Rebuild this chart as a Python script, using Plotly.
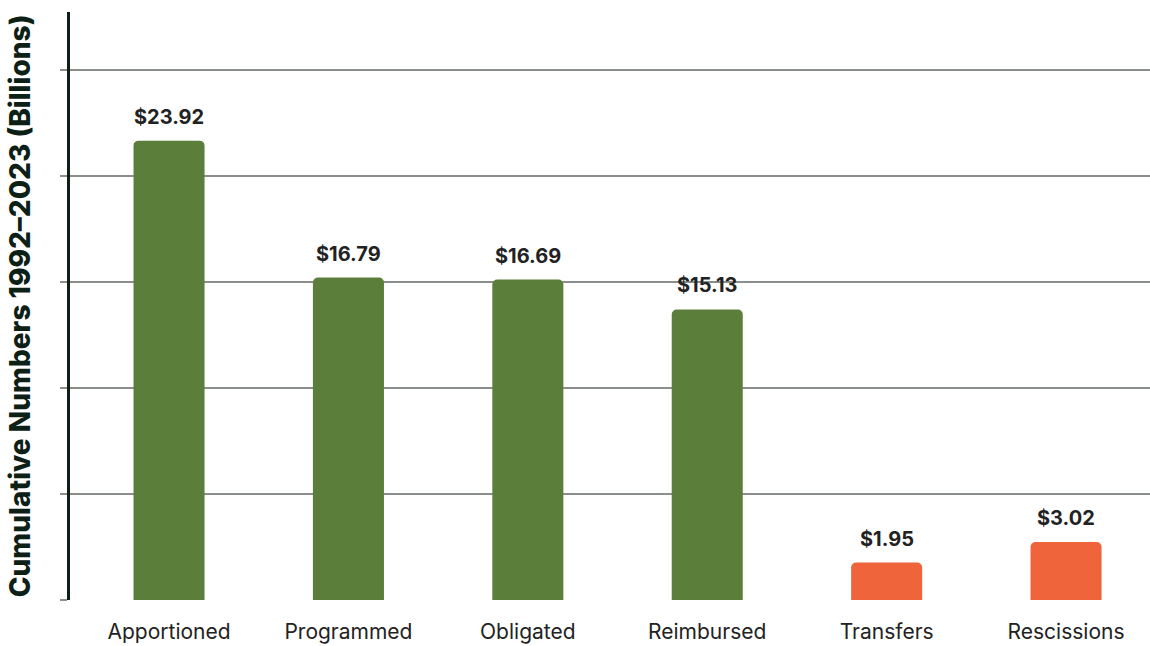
import plotly.graph_objects as go

categories = ["Apportioned", "Programmed", "Obligated", "Reimbursed", "Transfers", "Rescissions"]
values = [23.92, 16.79, 16.69, 15.13, 1.95, 3.02]
bar_colors = ["#5B7F3A", "#5B7F3A", "#5B7F3A", "#5B7F3A", "#F0643C", "#F0643C"]
labels = ["$23.92", "$16.79", "$16.69", "$15.13", "$1.95", "$3.02"]
grid_vals = [0, 5.52, 11.04, 16.56, 22.08, 27.6]

fig = go.Figure(go.Bar(
    x=categories, y=values,
    marker=dict(color=bar_colors, line=dict(width=0)),
    cliponaxis=False,
))

for c, v, t in zip(categories, values, labels):
    fig.add_annotation(x=c, y=v, text=t, showarrow=False, yanchor="bottom", yshift=10,
                       font=dict(family="Inter", size=20, color="#222222", weight="bold"))

fig.update_layout(
    width=1150, height=646,
    margin=dict(l=70, r=0, t=12, b=46),
    paper_bgcolor="white", plot_bgcolor="white",
    bargap=0.604, barcornerradius=5,
    showlegend=False,
    font=dict(family="Inter", color="#222222"),
    xaxis=dict(range=[-0.552, 5.468], showline=False, ticks="",
               tickfont=dict(size=21, color="#222222"),
               ticklabelstandoff=17),
    yaxis=dict(range=[0, 30.62], tickvals=grid_vals, showticklabels=False,
               showgrid=True, gridcolor="#8A8F8C", gridwidth=2,
               zeroline=False,
               showline=True, linecolor="#0D2016", linewidth=3,
               ticks="outside", ticklen=7, tickcolor="#8A8F8C", tickwidth=2,
               title=dict(text="Cumulative Numbers 1992–2023 (Billions)",
                          font=dict(family="Inter", size=28, color="#0D2016", weight=800),
                          standoff=22)),
)

post = ("document.body.style.margin='0';"
        "var gd=document.getElementById('{plot_id}');"
        "Plotly.relayout(gd,{width:1150,height:646});")

fig.write_html("out.html", post_script=post,
               config={"responsive": False, "displayModeBar": False})
